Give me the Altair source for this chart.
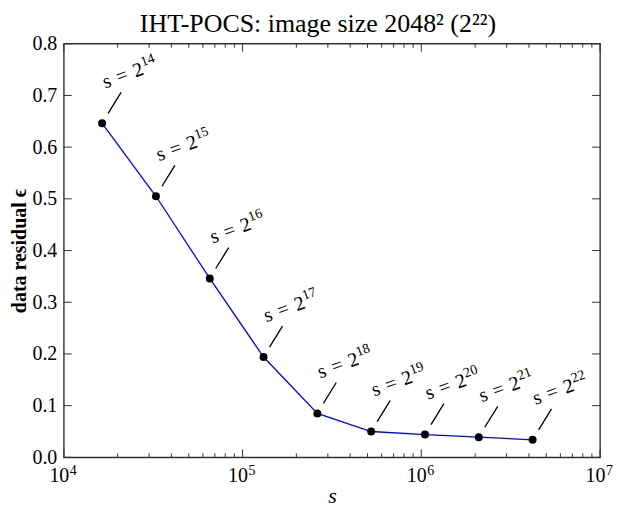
import altair as alt
import pandas as pd

# ---- data ----
exponents = [14, 15, 16, 17, 18, 19, 20, 21, 22]
residuals = [0.646, 0.505, 0.346, 0.194, 0.085, 0.050, 0.044, 0.039, 0.034]
x_major = [1e4, 1e5, 1e6, 1e7]
x_major_exp = ["4", "5", "6", "7"]
x_minor = [m * 10 ** k for k in (4, 5, 6) for m in range(2, 10)]
y_major = [0.0, 0.1, 0.2, 0.3, 0.4, 0.5, 0.6, 0.7, 0.8]

SP = "\u2004"
df = pd.DataFrame({
    "s": [2 ** e for e in exponents],
    "v": residuals,
    "base": ["s" + SP + "=" + SP + "2" for e in exponents],
    "exp": [str(e) for e in exponents],
})
xt = pd.DataFrame({"t": x_major, "e": x_major_exp})

W, H = 538, 415
FONT = "Liberation Serif"
TICK = "#333333"
LBL = 20

xscale = alt.Scale(type="log", domain=[1e4, 1e7], nice=False)
yscale = alt.Scale(domain=[0, 0.8], nice=False, zero=False)

xaxis = alt.Axis(values=x_major, labelExpr="'10'", ticks=False, domain=False,
                 grid=False, labelFont=FONT, labelFontSize=20, labelColor="black",
                 labelPadding=8, labelOffset=-5, title="s", titleFont=FONT,
                 titleFontStyle="italic", titleFontWeight="normal", titleFontSize=22,
                 titleColor="black", titlePadding=0, labelFlush=False, labelOverlap=False)
yaxis = alt.Axis(values=y_major, format=".1f", ticks=False, domain=False, grid=False,
                 labelFont=FONT, labelFontSize=20, labelColor="black", labelPadding=7,
                 title="data residual ϵ", titleFont=FONT, titleFontSize=20,
                 titleFontWeight="bold", titleColor="black", titlePadding=2,
                 labelFlush=False, labelOverlap=False)

def X(f):
    return alt.X(f, type="quantitative", scale=xscale, axis=xaxis)

def Y(f):
    return alt.Y(f, type="quantitative", scale=yscale, axis=yaxis)

base = alt.Chart(df)

line = base.mark_line(color="#0000ff", strokeWidth=1.3).encode(x=X("s"), y=Y("v"))

points = base.mark_circle(color="black", opacity=1, size=64).encode(x=X("s"), y=Y("v"))

leaders = base.mark_rule(color="black", strokeWidth=1.3, xOffset=6, x2Offset=19,
                         yOffset=-10, y2Offset=-31).encode(
    x=X("s"), x2="s:Q", y=Y("v"), y2="v:Q",
)

labels = base.mark_text(align="left", baseline="alphabetic", angle=340, xOffset=3, yOffset=-35,
                        font=FONT, fontSize=LBL, color="black").encode(
    x=X("s"), y=Y("v"), text="base:N",
)
sups = base.mark_text(align="left", baseline="alphabetic", angle=340, xOffset=3, yOffset=-35,
                      dx=LBL * 2.14, dy=-8, font=FONT, fontSize=14, color="black").encode(
    x=X("s"), y=Y("v"), text="exp:N",
)

xsup = alt.Chart(xt).mark_text(align="left", baseline="alphabetic", xOffset=6,
                               font=FONT, fontSize=14, color="black").encode(
    x=X("t"), y=alt.value(H + 18), text="e:N")

def xticks(vals, length):
    d = pd.DataFrame({"t": vals})
    bot = alt.Chart(d).mark_rule(color=TICK, strokeWidth=1).encode(
        x=X("t"), y=alt.value(H), y2=alt.value(H - length))
    top = alt.Chart(d).mark_rule(color=TICK, strokeWidth=1).encode(
        x=X("t"), y=alt.value(0), y2=alt.value(length))
    return [bot, top]

def yticks(vals, length):
    d = pd.DataFrame({"t": vals})
    left = alt.Chart(d).mark_rule(color=TICK, strokeWidth=1).encode(
        y=Y("t"), x=alt.value(0), x2=alt.value(length))
    right = alt.Chart(d).mark_rule(color=TICK, strokeWidth=1).encode(
        y=Y("t"), x=alt.value(W), x2=alt.value(W - length))
    return [left, right]

layers = [line, *xticks(x_major, 8), *xticks(x_minor, 4), *yticks(y_major, 8),
          leaders, points, labels, sups, xsup]

chart = alt.layer(*layers).properties(
    width=W, height=H,
    background="white",
    autosize=alt.AutoSizeParams(type="none"),
    padding={"left": 56, "top": 35, "right": 16, "bottom": 58},
    title=alt.TitleParams("IHT-POCS: image size 2048² (2²²)", font=FONT, fontSize=26,
                          fontWeight="normal", color="black", offset=-3, dx=-14),
).configure_view(stroke=TICK, strokeWidth=1.4)

chart.save("out.html", embed_options={"renderer": "svg", "actions": False})
